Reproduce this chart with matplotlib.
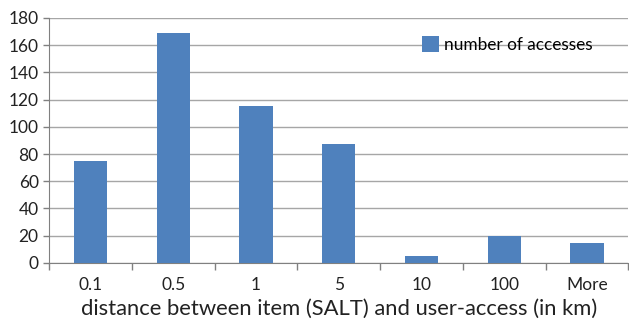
import numpy as np
import matplotlib.pyplot as plt
from matplotlib.ticker import FixedLocator

categories = ['0.1', '0.5', '1', '5', '10', '100', 'More']
accesses = [75, 169, 115, 87, 5, 20, 15]

plt.rcParams['font.family'] = ['Lato', 'DejaVu Sans']

fig = plt.figure(figsize=(6.29, 3.25), dpi=100)
ax = fig.add_axes([0.078, 0.191, 0.921, 0.754])

x = np.arange(len(categories))
ax.bar(x, accesses, width=0.4, color='#4f81bd', label='number of accesses', zorder=3)

ax.set_xlim(-0.5, len(categories) - 0.5)
ax.set_ylim(0, 180)
ax.set_yticks(range(0, 181, 20))
ax.yaxis.grid(True, color='#a6a6a6', linewidth=1, zorder=0)

ax.set_xticks(x)
ax.set_xticklabels(categories)
ax.xaxis.set_minor_locator(FixedLocator(np.arange(-0.5, len(categories) - 0.4, 1)))
ax.tick_params(axis='x', which='major', length=0, pad=10, labelsize=12.5, colors='#222222')
ax.tick_params(axis='x', which='minor', length=5, width=1, color='#808080')
ax.tick_params(axis='y', length=4, width=1, color='#808080', labelsize=12.5, labelcolor='#222222')

for s in ['top', 'right']:
    ax.spines[s].set_visible(False)
ax.spines['left'].set_color('#808080')
ax.spines['bottom'].set_color('#808080')

ax.set_xlabel('distance between item (SALT) and user-access (in km)', fontsize=15.8,
              color='#222222', labelpad=4)

ax.legend(loc='upper left', bbox_to_anchor=(0.617, 0.99), frameon=False, fontsize=12.4,
          handlelength=1.0, handleheight=1.1, handletextpad=0.3)

fig.savefig('out.png', dpi=100)
